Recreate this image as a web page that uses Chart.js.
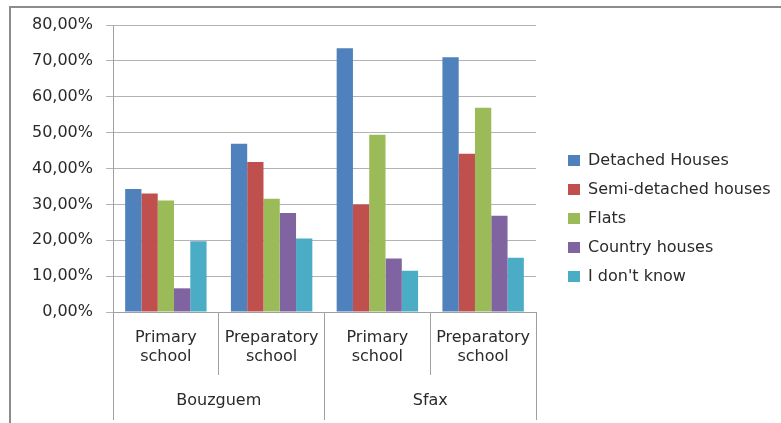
<!DOCTYPE html>
<html>
<head>
<meta charset="utf-8">
<script src="https://cdn.jsdelivr.net/npm/chart.js@4/dist/chart.umd.min.js"></script>
<style>
  html, body { margin: 0; padding: 0; background: #ffffff; overflow: hidden; }
  #frame { position: absolute; left: 9px; top: 6px; width: 900px; height: 600px;
           border-top: 2px solid #8c8c8c; border-left: 2px solid #8c8c8c; }
  #c { position: absolute; left: 0; top: 0; }
</style>
</head>
<body>
<div id="frame"></div>
<canvas id="c" width="781" height="423"></canvas>
<script>
const categories = [["Primary", "school"], ["Preparatory", "school"], ["Primary", "school"], ["Preparatory", "school"]];
const regions = ["Bouzguem", "Sfax"];
const seriesNames = ["Detached Houses", "Semi-detached houses", "Flats", "Country houses", "I don't know"];
const detachedHouses = [34.3, 46.9, 73.5, 71.0];
const semiDetachedHouses = [33.0, 41.8, 30.0, 44.1];
const flats = [31.1, 31.6, 49.4, 56.9];
const countryHouses = [6.6, 27.6, 14.9, 26.8];
const dontKnow = [19.7, 20.5, 11.5, 15.1];
const yTicks = [0, 10, 20, 30, 40, 50, 60, 70, 80];

const colors = ["#4F81BD", "#C0504D", "#9BBB59", "#8064A2", "#4BACC6"];
const seriesValues = [detachedHouses, semiDetachedHouses, flats, countryHouses, dontKnow];

const FONT = "'DejaVu Sans', sans-serif";
const TEXT = "#2a2a2a";

const legendFix = {
  id: 'legendFix',
  beforeLayout(chart) {
    const lg = chart.legend;
    if (lg && !lg.__fixed) {
      const orig = lg.fit;
      lg.fit = function () { orig.call(this); this.width = 781 - 536; };
      lg.__fixed = true;
    }
  },
  afterLayout(chart) {
    const lg = chart.legend;
    if (lg) { lg.left += 19; lg.right += 19; lg.top -= 4; lg.bottom -= 4; }
  }
};

new Chart(document.getElementById('c'), {
  type: 'bar',
  data: {
    labels: categories,
    datasets: seriesNames.map((name, i) => ({
      label: name,
      data: seriesValues[i],
      backgroundColor: colors[i],
      borderWidth: 0,
      categoryPercentage: 0.77,
      barPercentage: 1.0
    }))
  },
  options: {
    responsive: false,
    animation: false,
    devicePixelRatio: 1,
    layout: { padding: { top: 25, bottom: 3, left: 0, right: 0 } },
    plugins: {
      tooltip: { enabled: false },
      legend: {
        position: 'right',
        align: 'center',
        labels: {
          boxWidth: 12,
          boxHeight: 11,
          padding: 13,
          color: TEXT,
          font: { family: FONT, size: 16 }
        }
      }
    },
    scales: {
      y: {
        min: 0,
        max: 80,
        afterBuildTicks(scale) { scale.ticks = yTicks.map(v => ({ value: v })); },
        afterFit(scale) { scale.width = 113; },
        ticks: {
          padding: 13,
          color: TEXT,
          font: { family: FONT, size: 16 },
          callback: v => v.toFixed(2).replace('.', ',') + '%'
        },
        grid: { color: '#b3b3b3', lineWidth: 1, tickLength: 7, drawTicks: true },
        border: { color: '#a0a0a0', width: 1 }
      },
      x: {
        position: 'bottom',
        offset: true,
        afterFit(scale) { scale.height = 63; },
        ticks: {
          padding: -47,
          color: TEXT,
          maxRotation: 0,
          autoSkip: false,
          font: { family: FONT, size: 16, lineHeight: 19 / 16 }
        },
        grid: { offset: true, drawOnChartArea: false, tickLength: 63, color: '#a0a0a0' },
        border: { color: '#a0a0a0', width: 1 }
      },
      x2: {
        type: 'category',
        position: 'bottom',
        labels: regions,
        offset: true,
        afterFit(scale) { scale.height = 45; },
        ticks: {
          padding: -29,
          color: TEXT,
          maxRotation: 0,
          autoSkip: false,
          font: { family: FONT, size: 16, lineHeight: 1.2 }
        },
        grid: { offset: true, drawOnChartArea: false, tickLength: 45, color: '#a0a0a0' },
        border: { display: false }
      }
    }
  },
  plugins: [legendFix]
});
</script>
</body>
</html>
